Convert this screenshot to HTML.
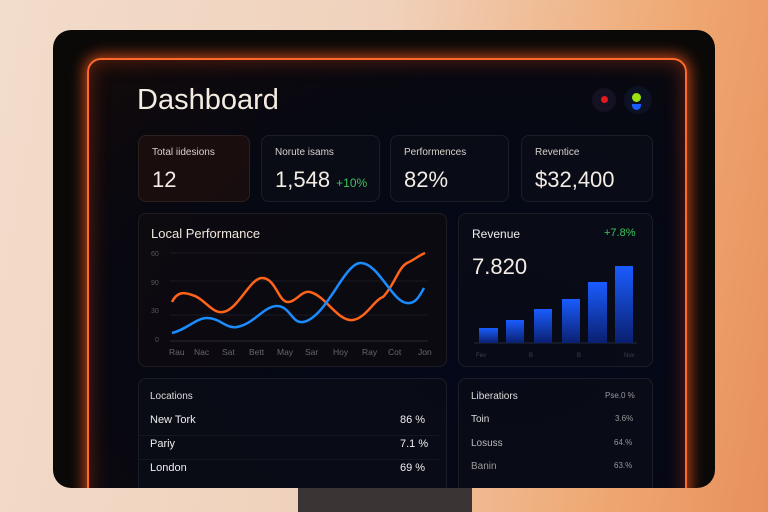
<!DOCTYPE html><html><head><style>
body{margin:0;width:768px;height:512px;overflow:hidden;font-family:"Liberation Sans",sans-serif;background:linear-gradient(100deg,#f2dccb 0%,#f0d2bc 45%,#efa872 80%,#e8905c 100%);position:relative}
.abs{position:absolute}
.clip{position:absolute;left:0;top:0;width:768px;height:488px;overflow:hidden}
.bezel{left:53px;top:30px;width:662px;height:458px;background:#0b0908;border-radius:18px;overflow:hidden}
.screen{left:34px;top:28px;width:596px;height:480px;border:2px solid #ff6a2a;border-radius:14px;box-shadow:0 0 14px 3px rgba(255,90,30,.7),inset 0 0 20px rgba(255,80,20,.35);background:radial-gradient(ellipse at 70% 60%,#04081a 0%,#060812 60%,#120a0a 100%)}
.card{position:absolute;border:1px solid rgba(255,255,255,.08);border-radius:8px;background:rgba(10,12,22,.8);color:#eee}
.lbl{font-size:10px;color:#d8d2cc}
.val{font-size:22px;color:#f3ece4}
</style></head><body>
<div class="abs" style="left:298px;top:486px;width:174px;height:26px;background:#3a3534"></div>
<div class="clip">
<div class="abs bezel">
<div class="abs screen"></div>
</div>
<div class="abs" style="left:137px;top:84px;font-size:29px;color:#f4ece2">Dashboard</div>
<div class="abs" style="left:592px;top:88px;width:24px;height:24px;border-radius:50%;background:#141222"></div>
<div class="abs" style="left:601px;top:96px;width:7px;height:7px;border-radius:50%;background:#e01a20"></div>
<div class="abs" style="left:624px;top:86px;width:28px;height:28px;border-radius:50%;background:#0c1224"></div>
<div class="abs" style="left:632px;top:93px;width:9px;height:9px;border-radius:50%;background:#9be010"></div>
<div class="abs" style="left:632px;top:104px;width:9px;height:6px;border-radius:0 0 5px 5px;background:#1a5cff"></div>

<div class="card" style="left:138px;top:135px;width:110px;height:65px;background:rgba(28,14,14,.85)"><div class="abs lbl" style="left:13px;top:11px">Total iidesions</div><div class="abs val" style="left:13px;top:31px">12</div></div>
<div class="card" style="left:261px;top:135px;width:117px;height:65px"><div class="abs lbl" style="left:13px;top:11px">Norute isams</div><div class="abs val" style="left:13px;top:31px">1,548 <span style="font-size:12px;color:#3cc45a">+10%</span></div></div>
<div class="card" style="left:390px;top:135px;width:117px;height:65px"><div class="abs lbl" style="left:13px;top:11px">Performences</div><div class="abs val" style="left:13px;top:31px">82%</div></div>
<div class="card" style="left:521px;top:135px;width:130px;height:65px"><div class="abs lbl" style="left:13px;top:11px">Reventice</div><div class="abs val" style="left:13px;top:31px">$32,400</div></div>

<div class="card" style="left:138px;top:213px;width:307px;height:152px;background:rgba(14,10,16,.85)"><div class="abs" style="left:12px;top:12px;font-size:13px;color:#f0e6dc">Local Performance</div></div>
<svg class="abs" style="left:0;top:0" width="768" height="512">
<g font-size="7" fill="#5a5560" font-family="Liberation Sans">
<text x="151" y="256">60</text><text x="151" y="285">90</text><text x="151" y="313">30</text><text x="155" y="342">0</text>
<line x1="170" y1="253" x2="428" y2="253" stroke="#1a1a24"/><line x1="170" y1="281" x2="428" y2="281" stroke="#1a1a24"/><line x1="170" y1="315" x2="428" y2="315" stroke="#1a1a24"/><line x1="170" y1="341" x2="428" y2="341" stroke="#2a2a34"/>
</g>
<g font-size="8.5" fill="#6a6470" font-family="Liberation Sans">
<text x="169" y="355">Rau</text><text x="194" y="355">Nac</text><text x="222" y="355">Sat</text><text x="249" y="355">Bett</text><text x="277" y="355">May</text><text x="305" y="355">Sar</text><text x="333" y="355">Hoy</text><text x="362" y="355">Ray</text><text x="388" y="355">Cot</text><text x="418" y="355">Jon</text>
</g>
<path d="M172,302 C178,290 186,293 192,295 C204,298 212,314 223,312 C238,310 250,278 262,278 C276,278 278,302 288,302 C296,302 302,290 310,292 C326,296 338,322 353,320 C366,318 374,300 383,297 C394,286 398,268 407,263 C414,260 418,256 425,253" fill="none" stroke="#ff6418" stroke-width="2.5"/>
<path d="M172,333 C186,330 196,318 207,318 C220,318 226,329 237,327 C254,324 264,306 277,306 C290,306 292,324 303,322 C326,318 344,264 360,263 C378,262 392,302 407,303 C416,304 420,295 424,288" fill="none" stroke="#1a8cff" stroke-width="2.5"/>
<defs><linearGradient id="b" x1="0" y1="0" x2="0" y2="1"><stop offset="0" stop-color="#1a5cff"/><stop offset="1" stop-color="#0a2070"/></linearGradient></defs>
</svg>
<div class="card" style="left:458px;top:213px;width:193px;height:152px">
<div class="abs" style="left:13px;top:13px;font-size:12px;color:#eee">Revenue</div>
<div class="abs" style="left:145px;top:13px;font-size:11px;color:#3cc45a">+7.8%</div>
<div class="abs" style="left:13px;top:40px;font-size:22px;color:#f3ece4">7.820</div>
<svg class="abs" style="left:0;top:0" width="193" height="152">
<line x1="15" y1="129" x2="178" y2="129" stroke="#222a3a"/>
<rect x="20" y="114" width="19" height="15" fill="url(#b)"/><rect x="47" y="106" width="18" height="23" fill="url(#b)"/><rect x="75" y="95" width="18" height="34" fill="url(#b)"/><rect x="103" y="85" width="18" height="44" fill="url(#b)"/><rect x="129" y="68" width="19" height="61" fill="url(#b)"/><rect x="156" y="52" width="18" height="77" fill="url(#b)"/>
<g font-size="6" fill="#3a4050"><text x="17" y="143">Fev</text><text x="70" y="143">B</text><text x="118" y="143">B</text><text x="165" y="143">Nov</text></g>
</svg></div>

<div class="card" style="left:138px;top:378px;width:307px;height:120px;font-size:11px">
<div class="abs" style="left:11px;top:12px;color:#ddd;font-size:10px">Locations</div>
<div class="abs" style="left:11px;top:35px">New Tork</div><div class="abs" style="left:261px;top:35px">86 %</div>
<div class="abs" style="left:0;top:56px;width:300px;border-top:1px solid #15161e"></div>
<div class="abs" style="left:11px;top:59px">Pariy</div><div class="abs" style="left:261px;top:59px">7.1 %</div>
<div class="abs" style="left:0;top:80px;width:300px;border-top:1px solid #15161e"></div>
<div class="abs" style="left:11px;top:83px">London</div><div class="abs" style="left:261px;top:83px">69 %</div>
</div>
<div class="card" style="left:458px;top:378px;width:193px;height:120px;font-size:10px;color:#ddd">
<div class="abs" style="left:12px;top:12px">Liberatiors</div><div class="abs" style="left:146px;top:12px;font-size:8px;color:#999">Pse.0 %</div>
<div class="abs" style="left:12px;top:35px">Toin</div><div class="abs" style="left:156px;top:35px;font-size:8px;color:#999">3.6%</div>
<div class="abs" style="left:12px;top:59px;color:#bbb">Losuss</div><div class="abs" style="left:155px;top:59px;font-size:8px;color:#999">64.%</div>
<div class="abs" style="left:12px;top:82px;color:#999">Banin</div><div class="abs" style="left:155px;top:82px;font-size:8px;color:#999">63.%</div>
</div>
</div>
</body></html>
